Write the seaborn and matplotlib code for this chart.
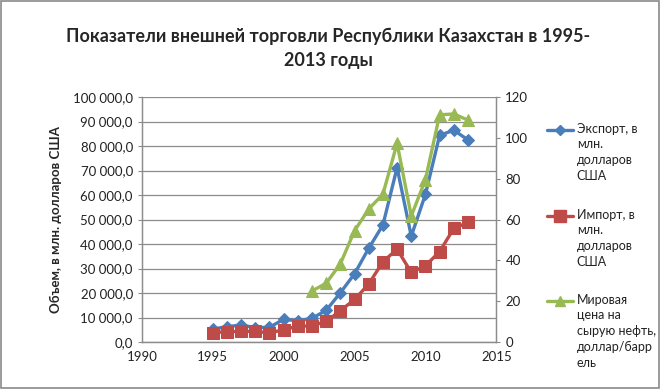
import matplotlib
matplotlib.use("Agg")
import matplotlib.pyplot as plt
from matplotlib.lines import Line2D
from matplotlib.patches import Rectangle
from matplotlib.ticker import FuncFormatter, MultipleLocator
import pandas as pd
import seaborn as sns

years = list(range(1995, 2014))
export = [5250, 6292, 6899, 5871, 5988, 9288, 8639, 9670, 12927, 20096,
          27849, 38250, 47755, 71183, 43196, 60271, 84336, 86449, 82511]
imports = [3807, 4241, 4301, 4350, 3683, 5040, 6446, 6584, 8409, 12781,
           17353, 23677, 32756, 37889, 28409, 31107, 36906, 46358, 48806]
oil_years = list(range(2002, 2014))
oil_price = [25.0, 28.8, 38.3, 54.5, 65.1, 72.4, 97.3, 61.7, 79.5, 111.3, 111.7, 108.7]

labels = ["Экспорт, в\nмлн.\nдолларов\nСША",
          "Импорт, в\nмлн.\nдолларов\nСША",
          "Мировая\nцена на\nсырую нефть,\nдоллар/барр\nель"]
title = "Показатели внешней торговли Республики Казахстан в 1995-\n2013 годы"
ylabel = "Объем, в млн. долларов США"

BLUE = "#4A7EBB"
RED = "#BE4B48"
GREEN = "#98B954"
GRID = "#8C8C8C"

sns.set_style("white")
plt.rcParams["font.family"] = ["Lato", "DejaVu Sans"]

trade = pd.DataFrame({"year": years, "export": export, "import": imports})
oil = pd.DataFrame({"year": oil_years, "price": oil_price})

fig = plt.figure(figsize=(6.6, 3.89), dpi=100)
ax = fig.add_axes([0.215, 0.1208, 0.537, 0.6298])
ax2 = ax.twinx()

sns.lineplot(data=trade, x="year", y="export", ax=ax, color=BLUE, lw=2.4,
             marker="D", markersize=6, markeredgecolor=BLUE, legend=False)
sns.lineplot(data=trade, x="year", y="import", ax=ax, color=RED, lw=2.4,
             marker="s", markersize=8, markeredgecolor=RED, legend=False)
sns.lineplot(data=oil, x="year", y="price", ax=ax2, color=GREEN, lw=2.4,
             marker="^", markersize=8, markeredgecolor=GREEN, legend=False)

ax.set_xlim(1990, 2015)
ax.set_ylim(0, 100000)
ax2.set_ylim(0, 120)
ax.xaxis.set_major_locator(MultipleLocator(5))
ax.yaxis.set_major_locator(MultipleLocator(10000))
ax2.yaxis.set_major_locator(MultipleLocator(20))
ax.yaxis.set_major_formatter(FuncFormatter(
    lambda v, p: f"{v:,.1f}".replace(",", " ").replace(".", ",")))

ax.grid(axis="y", color=GRID, lw=0.9)
ax.set_axisbelow(True)
for a in (ax, ax2):
    for s in a.spines.values():
        s.set_color(GRID)
        s.set_linewidth(0.9)
    a.spines["top"].set_visible(False)
    a.tick_params(labelsize=9.5, colors="#222222", length=3, width=0.8)
    a.tick_params(axis="both", color=GRID)
ax.set_xlabel("")
ax.set_ylabel(ylabel, fontsize=9.5, fontweight="bold", labelpad=8)
ax2.set_ylabel("")

# legend drawn by hand so the marker sits on the first text line, as in Excel
entries = [(BLUE, "D", 5, 0.666), (RED, "s", 8, 0.445), (GREEN, "^", 7, 0.226)]
for (col, mk, ms, y), lab in zip(entries, labels):
    fig.add_artist(Line2D([0.829, 0.868], [y, y], transform=fig.transFigure,
                          color=col, lw=2.4))
    fig.add_artist(Line2D([0.8485], [y], transform=fig.transFigure, color=col,
                          marker=mk, markersize=ms, lw=0))
    fig.text(0.874, y + 0.019, lab, ha="left", va="top", fontsize=9,
             linespacing=1.38, color="#222222")

fig.text(0.497, 0.875, title, ha="center", va="center", fontsize=13,
         fontweight="bold", linespacing=1.5)

fig.patches.append(Rectangle((0.001, 0.002), 0.997, 0.995, transform=fig.transFigure,
                             fill=False, edgecolor="#8A8A8A", lw=1.2))

fig.savefig("out.png", dpi=100)
